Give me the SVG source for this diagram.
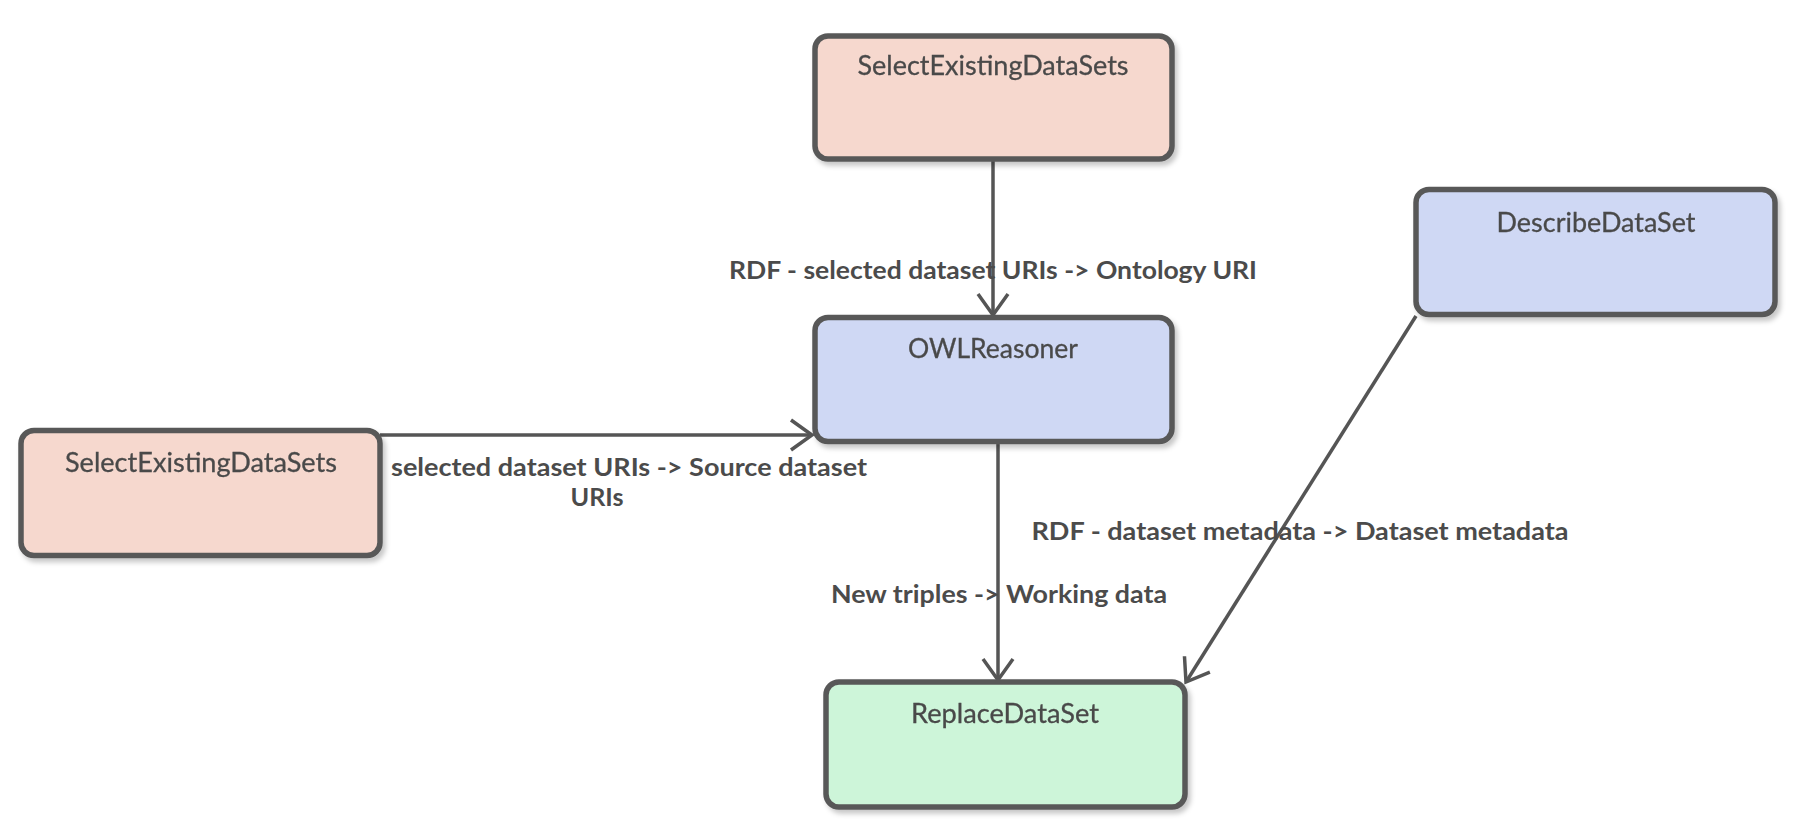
<svg xmlns="http://www.w3.org/2000/svg" width="1798" height="828" viewBox="0 0 1798 828">
<style>
.box{stroke:#585858;stroke-width:5.5}
.pink{fill:#f6d8ce}
.blue{fill:#cfd8f4}
.green{fill:#cdf5d9}
.nt{font-family:Lato,"Open Sans","Liberation Sans",sans-serif;font-size:26px;fill:#4a4a4a;text-anchor:middle;stroke:#4a4a4a;stroke-width:0.3}
.lt{font-family:Lato,"Open Sans","Liberation Sans",sans-serif;font-size:25px;font-weight:bold;fill:#4b4b4b;text-anchor:middle}
.edge{stroke:#555;stroke-width:3.5;fill:none}
</style>
<defs>
<filter id="sh" x="-10%" y="-10%" width="120%" height="130%">
<feDropShadow dx="3" dy="4" stdDeviation="2.5" flood-color="#000" flood-opacity="0.22"/>
</filter>
<marker id="arr" markerUnits="userSpaceOnUse" viewBox="-24 -18 28 36" refX="0" refY="0" markerWidth="28" markerHeight="36" orient="auto">
<path d="M-21,-15 L0,0 L-21,15" fill="none" stroke="#555" stroke-width="3.5"/>
</marker>
</defs>
<rect width="1798" height="828" fill="#fff"/>
<g id="connectors">
<line class="edge" x1="993" y1="161" x2="993" y2="315" marker-end="url(#arr)"/>
<polyline class="edge" points="380,435 812,435" marker-end="url(#arr)"/>
<line class="edge" x1="998" y1="444" x2="998" y2="680" marker-end="url(#arr)"/>
<line class="edge" x1="1416" y1="316" x2="1186" y2="682" marker-end="url(#arr)"/>
<text class="lt" x="993" y="279" textLength="528" lengthAdjust="spacingAndGlyphs">RDF - selected dataset URIs -&gt; Ontology URI</text>
<text class="lt" x="629" y="476" textLength="476" lengthAdjust="spacingAndGlyphs">selected dataset URIs -&gt; Source dataset</text>
<text class="lt" x="597" y="506" textLength="53" lengthAdjust="spacingAndGlyphs">URIs</text>
<text class="lt" x="999" y="603" textLength="336" lengthAdjust="spacingAndGlyphs">New triples -&gt; Working data</text>
<text class="lt" x="1300" y="540" textLength="537" lengthAdjust="spacingAndGlyphs">RDF - dataset metadata -&gt; Dataset metadata</text>
</g>
<g id="node-select-top" filter="url(#sh)">
<rect class="box pink" x="815" y="36" width="357" height="123" rx="13"/>
<text class="nt" x="993" y="75" textLength="271" lengthAdjust="spacingAndGlyphs">SelectExistingDataSets</text>
</g>
<g id="node-owlreasoner" filter="url(#sh)">
<rect class="box blue" x="815" y="317.5" width="357" height="124" rx="13"/>
<text class="nt" x="993" y="358" textLength="170" lengthAdjust="spacingAndGlyphs">OWLReasoner</text>
</g>
<g id="node-select-left" filter="url(#sh)">
<rect class="box pink" x="21" y="430.5" width="359" height="125" rx="13"/>
<text class="nt" x="201" y="472" textLength="272" lengthAdjust="spacingAndGlyphs">SelectExistingDataSets</text>
</g>
<g id="node-describe" filter="url(#sh)">
<rect class="box blue" x="1416" y="189.5" width="359" height="125" rx="13"/>
<text class="nt" x="1596" y="232" textLength="199" lengthAdjust="spacingAndGlyphs">DescribeDataSet</text>
</g>
<g id="node-replace" filter="url(#sh)">
<rect class="box green" x="826" y="682" width="359" height="125" rx="13"/>
<text class="nt" x="1005" y="723" textLength="188" lengthAdjust="spacingAndGlyphs">ReplaceDataSet</text>
</g>
</svg>
